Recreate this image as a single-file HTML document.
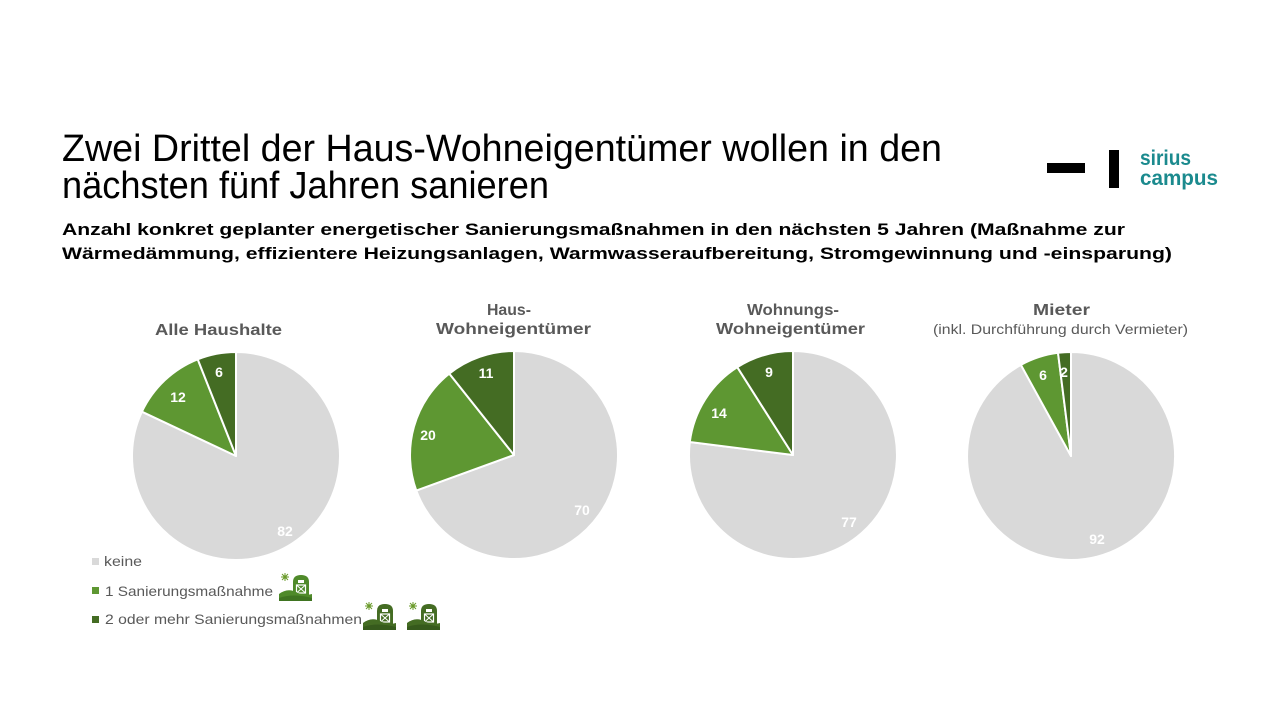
<!DOCTYPE html>
<html>
<head>
<meta charset="utf-8">
<style>
  html,body{margin:0;padding:0;background:#fff;}
  svg{display:block;}
  text{font-family:"Liberation Sans", sans-serif;}
</style>
</head>
<body>
<svg width="1280" height="720" viewBox="0 0 1280 720" xmlns="http://www.w3.org/2000/svg">
  <rect width="1280" height="720" fill="#fff"/>

  <!-- Title -->
  <text x="62" y="161" font-size="38" fill="#000" textLength="880" lengthAdjust="spacingAndGlyphs">Zwei Drittel der Haus-Wohneigentümer wollen in den</text>
  <text x="62" y="198" font-size="38" fill="#000" textLength="487" lengthAdjust="spacingAndGlyphs">nächsten fünf Jahren sanieren</text>

  <!-- Subtitle -->
  <text x="62" y="235" font-size="16.5" font-weight="bold" fill="#000" textLength="1063" lengthAdjust="spacingAndGlyphs">Anzahl konkret geplanter energetischer Sanierungsmaßnahmen in den nächsten 5 Jahren (Maßnahme zur</text>
  <text x="62" y="259" font-size="16.5" font-weight="bold" fill="#000" textLength="1110" lengthAdjust="spacingAndGlyphs">Wärmedämmung, effizientere Heizungsanlagen, Warmwasseraufbereitung, Stromgewinnung und -einsparung)</text>

  <!-- Logo -->
  <rect x="1047" y="163" width="38" height="10" fill="#000"/>
  <rect x="1109" y="150" width="10" height="38" fill="#000"/>
  <text x="1140" y="165" font-size="21" font-weight="bold" fill="#1b8a8e" textLength="51" lengthAdjust="spacingAndGlyphs">sirius</text>
  <text x="1140" y="185" font-size="21" font-weight="bold" fill="#1b8a8e" textLength="78" lengthAdjust="spacingAndGlyphs">campus</text>

  <!-- Chart titles -->
  <text x="155" y="335" font-size="16" font-weight="bold" fill="#595959" textLength="127" lengthAdjust="spacingAndGlyphs">Alle Haushalte</text>
  <text x="487" y="315" font-size="16" font-weight="bold" fill="#595959" textLength="44" lengthAdjust="spacingAndGlyphs">Haus-</text>
  <text x="436" y="334" font-size="16" font-weight="bold" fill="#595959" textLength="155" lengthAdjust="spacingAndGlyphs">Wohneigentümer</text>
  <text x="747" y="315" font-size="16" font-weight="bold" fill="#595959" textLength="92" lengthAdjust="spacingAndGlyphs">Wohnungs-</text>
  <text x="716" y="334" font-size="16" font-weight="bold" fill="#595959" textLength="149" lengthAdjust="spacingAndGlyphs">Wohneigentümer</text>
  <text x="1033" y="315" font-size="16" font-weight="bold" fill="#595959" textLength="57" lengthAdjust="spacingAndGlyphs">Mieter</text>
  <text x="933" y="334" font-size="14" fill="#595959" textLength="255" lengthAdjust="spacingAndGlyphs">(inkl. Durchführung durch Vermieter)</text>

  <!-- Pie 1 -->
  <g stroke="#fff" stroke-width="2" stroke-linejoin="round">
    <path d="M236,456 L236,352 A104,104 0 1 1 141.9,411.7 Z" fill="#d9d9d9"/>
    <path d="M236,456 L141.9,411.7 A104,104 0 0 1 197.7,359.3 Z" fill="#5e9732"/>
    <path d="M236,456 L197.7,359.3 A104,104 0 0 1 236,352 Z" fill="#446c23"/>
  </g>
  <!-- Pie 2 -->
  <g stroke="#fff" stroke-width="2" stroke-linejoin="round">
    <path d="M514,455 L514,351 A104,104 0 1 1 416.3,490.6 Z" fill="#d9d9d9"/>
    <path d="M514,455 L416.3,490.6 A104,104 0 0 1 449.3,373.6 Z" fill="#5e9732"/>
    <path d="M514,455 L449.3,373.6 A104,104 0 0 1 514,351 Z" fill="#446c23"/>
  </g>
  <!-- Pie 3 -->
  <g stroke="#fff" stroke-width="2" stroke-linejoin="round">
    <path d="M793,455 L793,351 A104,104 0 1 1 689.8,442 Z" fill="#d9d9d9"/>
    <path d="M793,455 L689.8,442 A104,104 0 0 1 737.3,367.2 Z" fill="#5e9732"/>
    <path d="M793,455 L737.3,367.2 A104,104 0 0 1 793,351 Z" fill="#446c23"/>
  </g>
  <!-- Pie 4 -->
  <g stroke="#fff" stroke-width="2" stroke-linejoin="round">
    <path d="M1071,456 L1071,352 A104,104 0 1 1 1020.9,364.9 Z" fill="#d9d9d9"/>
    <path d="M1071,456 L1020.9,364.9 A104,104 0 0 1 1058,352.8 Z" fill="#5e9732"/>
    <path d="M1071,456 L1058,352.8 A104,104 0 0 1 1071,352 Z" fill="#446c23"/>
  </g>

  <!-- Data labels -->
  <g font-size="14" font-weight="bold" fill="#fff" text-anchor="middle">
    <text x="178" y="402">12</text>
    <text x="219" y="377">6</text>
    <text x="285" y="536">82</text>
    <text x="486" y="378">11</text>
    <text x="428" y="440">20</text>
    <text x="582" y="515">70</text>
    <text x="769" y="377">9</text>
    <text x="719" y="418">14</text>
    <text x="849" y="527">77</text>
    <text x="1043" y="380">6</text>
    <text x="1064" y="377">2</text>
    <text x="1097" y="544">92</text>
  </g>

  <!-- Legend -->
  <rect x="92" y="558" width="7" height="7" fill="#d9d9d9"/>
  <rect x="92" y="587" width="7" height="7" fill="#5e9732"/>
  <rect x="92" y="616" width="7" height="7" fill="#446c23"/>
  <text x="104" y="566" font-size="14" fill="#595959" textLength="38" lengthAdjust="spacingAndGlyphs">keine</text>
  <text x="105" y="596" font-size="14" fill="#595959" textLength="168" lengthAdjust="spacingAndGlyphs">1 Sanierungsmaßnahme</text>
  <text x="105" y="624" font-size="14" fill="#595959" textLength="257" lengthAdjust="spacingAndGlyphs">2 oder mehr Sanierungsmaßnahmen</text>

  <!-- Icons -->
  <g transform="translate(279,573)">
    <g stroke="#6a9a2a" stroke-width="1"><line x1="6" y1="0" x2="6" y2="8"/><line x1="2" y1="4" x2="10" y2="4"/><line x1="3" y1="1" x2="9" y2="7"/><line x1="9" y1="1" x2="3" y2="7"/></g>
    <circle cx="6" cy="4" r="1.8" fill="#6a9a2a"/>
    <path d="M14,22 L14,9 Q14,2 22,2 Q30,2 30,9 L30,22 Z" fill="#4f8a2a"/>
    <rect x="19" y="7" width="6" height="3" fill="#fff"/>
    <rect x="17.5" y="12" width="9" height="8" fill="none" stroke="#fff" stroke-width="1.2"/>
    <path d="M17.5,12 L26.5,20 M26.5,12 L17.5,20" stroke="#fff" stroke-width="1"/>
    <path d="M0,28 L0,21 Q9,14 19,20 Q26,23 33,21 L33,28 Z" fill="#4f8a2a"/>
    <path d="M0,28 L0,25 Q14,20 33,25 L33,28 Z" fill="#3f7421"/>
  </g>
  <g transform="translate(363,602)">
    <g stroke="#6a9a2a" stroke-width="1"><line x1="6" y1="0" x2="6" y2="8"/><line x1="2" y1="4" x2="10" y2="4"/><line x1="3" y1="1" x2="9" y2="7"/><line x1="9" y1="1" x2="3" y2="7"/></g>
    <circle cx="6" cy="4" r="1.8" fill="#6a9a2a"/>
    <path d="M14,22 L14,9 Q14,2 22,2 Q30,2 30,9 L30,22 Z" fill="#446c23"/>
    <rect x="19" y="7" width="6" height="3" fill="#fff"/>
    <rect x="17.5" y="12" width="9" height="8" fill="none" stroke="#fff" stroke-width="1.2"/>
    <path d="M17.5,12 L26.5,20 M26.5,12 L17.5,20" stroke="#fff" stroke-width="1"/>
    <path d="M0,28 L0,21 Q9,14 19,20 Q26,23 33,21 L33,28 Z" fill="#446c23"/>
    <path d="M0,28 L0,25 Q14,20 33,25 L33,28 Z" fill="#365a1c"/>
  </g>
  <g transform="translate(407,602)">
    <g stroke="#6a9a2a" stroke-width="1"><line x1="6" y1="0" x2="6" y2="8"/><line x1="2" y1="4" x2="10" y2="4"/><line x1="3" y1="1" x2="9" y2="7"/><line x1="9" y1="1" x2="3" y2="7"/></g>
    <circle cx="6" cy="4" r="1.8" fill="#6a9a2a"/>
    <path d="M14,22 L14,9 Q14,2 22,2 Q30,2 30,9 L30,22 Z" fill="#446c23"/>
    <rect x="19" y="7" width="6" height="3" fill="#fff"/>
    <rect x="17.5" y="12" width="9" height="8" fill="none" stroke="#fff" stroke-width="1.2"/>
    <path d="M17.5,12 L26.5,20 M26.5,12 L17.5,20" stroke="#fff" stroke-width="1"/>
    <path d="M0,28 L0,21 Q9,14 19,20 Q26,23 33,21 L33,28 Z" fill="#446c23"/>
    <path d="M0,28 L0,25 Q14,20 33,25 L33,28 Z" fill="#365a1c"/>
  </g>
</svg>
</body>
</html>
